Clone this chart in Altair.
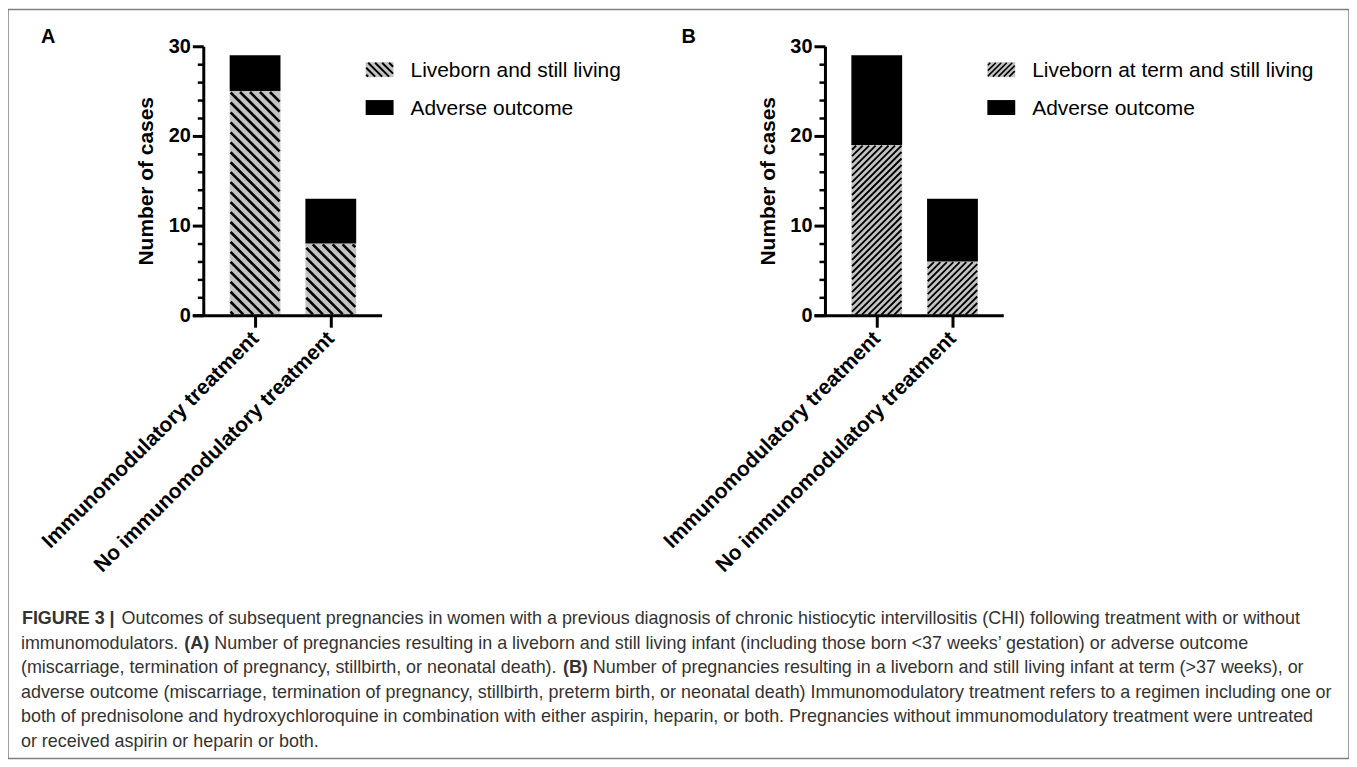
import json
import math
import altair as alt
import pandas as pd

# ---------------- data ----------------
groups = ["Immunomodulatory treatment", "No immunomodulatory treatment"]
a_live = [25, 8]
a_adverse = [4, 5]
b_live = [19, 6]
b_adverse = [10, 7]
a_legend = ["Liveborn and still living", "Adverse outcome"]
b_legend = ["Liveborn at term and still living", "Adverse outcome"]
panel_letters = ["A", "B"]
y_title = "Number of cases"
y_major = [0, 10, 20, 30]
y_minor = [2, 4, 6, 8, 12, 14, 16, 18, 22, 24, 26, 28]

caption_text = [
    ["FIGURE 3 |", "Outcomes of subsequent pregnancies in women with a previous diagnosis of chronic histiocytic intervillositis (CHI) following treatment with or without"],
    ["immunomodulators.", "(A)", "Number of pregnancies resulting in a liveborn and still living infant (including those born <37 weeks\u2019 gestation) or adverse outcome"],
    ["(miscarriage, termination of pregnancy, stillbirth, or neonatal death).", "(B)", "Number of pregnancies resulting in a liveborn and still living infant at term (>37 weeks), or"],
    ["adverse outcome (miscarriage, termination of pregnancy, stillbirth, preterm birth, or neonatal death) Immunomodulatory treatment refers to a regimen including one or"],
    ["both of prednisolone and hydroxychloroquine in combination with either aspirin, heparin, or both. Pregnancies without immunomodulatory treatment were untreated"],
    ["or received aspirin or heparin or both."],
]
caption_bold = [[True, False], [False, True, False], [False, True, False], [False], [False], [False]]

# ---------------- layout (pixels) ----------------
W, H = 1346, 752
FONT = "Liberation Sans, Arial, Helvetica, sans-serif"
CAP_FONT = "Liberation Sans, Arial, Helvetica, sans-serif"
CAP_SIZE = 18
CAP_COLOR = "#333333"
caption_seg_x = [[14, 114], [13, 177, 207], [13, 557, 587], [13], [13], [13]]
caption_baseline = [617, 642, 666, 691, 715, 740]

Y0, Y30 = 307, 37
PPU = (Y0 - Y30) / 30.0
STEP = 76
C0 = 248
X_LEFT, X_RIGHT = 185, 375
AX = 196
HALF = 25.5
PANEL_DX = 624
GREY = "#c4c4c4"

LEG_X1, LEG_X2 = 359, 387
LEG_Y1, LEG_H, LEG_DY = 53, 15, 38
LEG_TX = 404
LETTER_X = [33, 676]
LETTER_Y = 34


def hatch_segments(L, R, T, B, period, direction):
    segs = []
    if direction == "back":  # '\'  screen y = x + c
        c = math.floor((T - R) / period) * period
        while c < B - L:
            x1 = max(L, T - c)
            x2 = min(R, B - c)
            if x2 - x1 > 0.3:
                segs.append((x1, x1 + c, x2, x2 + c))
            c += period
    else:  # '/'  screen y = -x + c
        c = math.floor((L + T) / period) * period
        while c < R + B:
            x1 = max(L, c - B)
            x2 = min(R, c - T)
            if x2 - x1 > 0.3:
                segs.append((x1, c - x1, x2, c - x2))
            c += period
    return segs


def panel(k, ox, live, adverse, legend_labels, direction, period, lw, leg_period, leg_lw):
    cx0 = C0 + ox
    xs = alt.Scale(domain=[(X_LEFT - C0) / STEP, (X_RIGHT - C0) / STEP],
                   range=[X_LEFT + ox, X_RIGHT + ox], nice=False, zero=False)
    ys = alt.Scale(domain=[0, 30], range=[Y0, Y30], nice=False, zero=False)
    hw = HALF / STEP

    rows = []
    for i, g in enumerate(groups):
        rows.append(dict(g=g, kind="live", x1=i - hw, x2=i + hw, y1=0, y2=live[i]))
        rows.append(dict(g=g, kind="adverse", x1=i - hw, x2=i + hw, y1=live[i], y2=live[i] + adverse[i]))
    bars_df = pd.DataFrame(rows)

    hatch = []
    inset = lw * 0.35
    for i in range(len(groups)):
        L = cx0 + i * STEP - HALF + inset
        R = cx0 + i * STEP + HALF - inset
        T = Y0 - live[i] * PPU + inset
        B = Y0 - inset
        for (xa, ya, xb, yb) in hatch_segments(L, R, T, B, period, direction):
            hatch.append(dict(x1=(xa - cx0) / STEP, x2=(xb - cx0) / STEP,
                              y1=(Y0 - ya) / PPU, y2=(Y0 - yb) / PPU))
    hatch_df = pd.DataFrame(hatch)

    label_expr = json.dumps(groups) + "[datum.value]"

    bar_layer = alt.Chart(bars_df).mark_rect().encode(
        x=alt.X("x1:Q", scale=xs, axis=alt.Axis(
            orient="bottom", values=[0, 1], labelExpr=label_expr, offset=Y0 - H,
            title=None, grid=False, domainColor="black", domainWidth=3,
            tickColor="black", tickWidth=3, tickSize=12,
            labelAngle=315, labelAlign="right", labelBaseline="middle",
            labelPadding=8, labelFont=FONT, labelFontSize=21, labelFontWeight="bold",
            labelColor="black", labelOverlap=False, labelFlush=False, labelBound=False,
            labelLimit=600, zindex=1)),
        x2="x2:Q",
        y=alt.Y("y1:Q", scale=ys, axis=alt.Axis(
            orient="left", values=y_major, offset=-(AX + ox), grid=False,
            domainColor="black", domainWidth=3, tickColor="black", tickWidth=3, tickSize=11,
            labelFont=FONT, labelFontSize=20, labelFontWeight="bold", labelColor="black",
            labelPadding=2, labelFlush=False, labelOverlap=False,
            title=y_title, titleFont=FONT, titleFontSize=21, titleFontWeight="bold",
            titleColor="black", titleAngle=270, titleX=-57, titleY=(Y0 + Y30) / 2,
            titleAlign="center", titleBaseline="middle", zindex=1)),
        y2="y2:Q",
        color=alt.Color("kind:N", scale=alt.Scale(domain=["live", "adverse"], range=[GREY, "#000000"]), legend=None),
    )

    hatch_layer = alt.Chart(hatch_df).mark_rule(color="black", strokeWidth=lw, strokeCap="butt").encode(
        x=alt.X("x1:Q", scale=xs, axis=None),
        x2="x2:Q",
        y=alt.Y("y1:Q", scale=ys, axis=alt.Axis(
            orient="left", values=y_minor, offset=-(AX + ox), grid=False, domain=False,
            labels=False, title=None, tickColor="black", tickWidth=2.5, tickSize=6, zindex=1)),
        y2="y2:Q",
    )

    # legend
    leg_rows = []
    for i, lab in enumerate(legend_labels):
        leg_rows.append(dict(label=lab, kind="live" if i == 0 else "adverse",
                             x1=LEG_X1 + ox, x2=LEG_X2 + ox,
                             y1=LEG_Y1 + i * LEG_DY, y2=LEG_Y1 + i * LEG_DY + LEG_H,
                             tx=LEG_TX + ox, ty=LEG_Y1 + i * LEG_DY + LEG_H))
    leg_df = pd.DataFrame(leg_rows)
    leg_rect = alt.Chart(leg_df).mark_rect().encode(
        x=alt.X("x1:Q", scale=None, axis=None), x2="x2:Q",
        y=alt.Y("y1:Q", scale=None, axis=None), y2="y2:Q",
        color=alt.Color("kind:N", scale=alt.Scale(domain=["live", "adverse"], range=[GREY, "#000000"]), legend=None),
    )
    lh = []
    for (xa, ya, xb, yb) in hatch_segments(LEG_X1 + ox + 0.5, LEG_X2 + ox - 0.5, LEG_Y1 + 0.5,
                                            LEG_Y1 + LEG_H - 0.5, leg_period, direction):
        lh.append(dict(x1=xa, y1=ya, x2=xb, y2=yb))
    leg_hatch = alt.Chart(pd.DataFrame(lh)).mark_rule(color="black", strokeWidth=leg_lw, strokeCap="butt").encode(
        x=alt.X("x1:Q", scale=None, axis=None), x2="x2:Q",
        y=alt.Y("y1:Q", scale=None, axis=None), y2="y2:Q",
    )
    leg_text = alt.Chart(leg_df).mark_text(align="left", baseline="alphabetic", font=FONT,
                                           fontSize=21, color="black").encode(
        x=alt.X("tx:Q", scale=None, axis=None), y=alt.Y("ty:Q", scale=None, axis=None), text="label:N")

    letter_layer = alt.Chart(pd.DataFrame([dict(t=panel_letters[k], x=LETTER_X[k], y=LETTER_Y)])).mark_text(
        align="left", baseline="alphabetic", font=FONT, fontSize=20, fontWeight="bold", color="black").encode(
        x=alt.X("x:Q", scale=None, axis=None), y=alt.Y("y:Q", scale=None, axis=None), text="t:N")

    return [bar_layer, hatch_layer, leg_rect, leg_hatch, leg_text, letter_layer]


layers = []
layers += panel(0, 0, a_live, a_adverse, a_legend, "back", 10, 2.6, 7, 2.0)
layers += panel(1, PANEL_DX, b_live, b_adverse, b_legend, "fwd", 6.5, 1.9, 5.5, 1.6)

# caption
cap_rows = []
for li, segs in enumerate(caption_text):
    for si, t in enumerate(segs):
        cap_rows.append(dict(t=t, bold=caption_bold[li][si], x=caption_seg_x[li][si], y=caption_baseline[li]))
cap_df = pd.DataFrame(cap_rows)
for is_bold in (False, True):
    sub = cap_df[cap_df["bold"] == is_bold]
    layers.append(alt.Chart(sub).mark_text(
        align="left", baseline="alphabetic", font=CAP_FONT, fontSize=CAP_SIZE,
        fontWeight="bold" if is_bold else "normal", color=CAP_COLOR).encode(
        x=alt.X("x:Q", scale=None, axis=None), y=alt.Y("y:Q", scale=None, axis=None), text="t:N"))

chart = alt.layer(*layers).resolve_scale(
    x="independent", y="independent", color="independent"
).properties(
    width=W, height=H, padding=0, autosize=alt.AutoSizeParams(type="none"), background="white"
).configure_view(stroke="#7f7f7f", strokeWidth=1.5)

chart.save("out.html", embed_options={"renderer": "svg", "actions": False})
